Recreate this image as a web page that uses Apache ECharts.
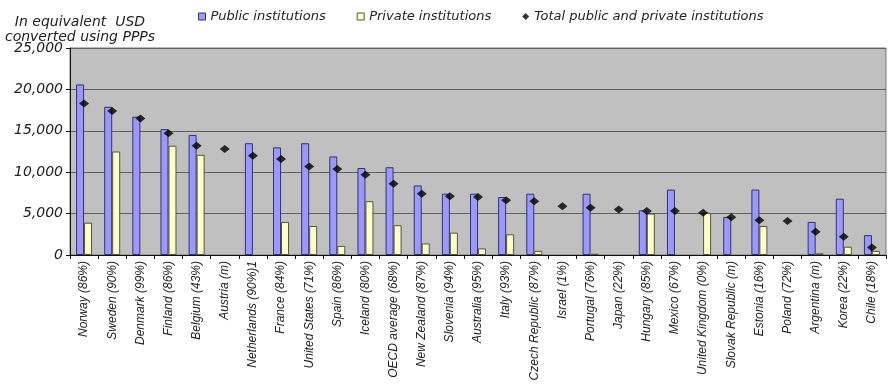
<!DOCTYPE html>
<html><head><meta charset="utf-8">
<script src="https://cdn.jsdelivr.net/npm/echarts@6/dist/echarts.min.js"></script>
<style>html,body{margin:0;padding:0;background:#fff}#c{width:888px;height:388px}</style>
</head><body><div id="c"></div>
<script>
const categories = ["Norway (86%)","Sweden (90%)","Denmark (99%)","Finland (86%)","Belgium (43%)","Austria (m)","Netherlands (90%)1","France (84%)","United States (71%)","Spain (86%)","Iceland (80%)","OECD average (68%)","New Zealand (87%)","Slovenia (94%)","Australia (95%)","Italy (93%)","Czech Republic (87%)","Israel (1%)","Portugal (76%)","Japan (22%)","Hungary (85%)","Mexico (67%)","United Kingdom (0%)","Slovak Republic (m)","Estonia (16%)","Poland (72%)","Argentina (m)","Korea (22%)","Chile (18%)"];
const publicVals = [20600,17900,16700,15200,14500,null,13500,13000,13500,11900,10500,10600,8400,7400,7400,7000,7400,null,7400,null,5400,7900,null,4600,7900,null,4000,6800,2400];
const privateVals = [3900,12500,null,13200,12100,null,null,4000,3500,1100,6500,3600,1400,2700,800,2500,500,null,150,null,5000,null,5100,null,3500,null,200,1000,500];
const totalVals = [18300,17400,16500,14700,13200,12800,12000,11600,10700,10400,9700,8600,7400,7100,7000,6600,6500,5900,5700,5500,5300,5300,5100,4550,4200,4100,2800,2200,900];
const yTicks = [0,5000,10000,15000,20000,25000];

const chart = echarts.init(document.getElementById('c'));
const font = '"Liberation Sans", Arial, sans-serif';
const wide = '"DejaVu Sans", sans-serif';
chart.setOption({
  animation:false,
  textStyle:{fontFamily:font},
  grid:{left:70,right:2,top:48,bottom:133,show:true,backgroundColor:'#c0c0c0',borderColor:'#777',borderWidth:1},
  legend:{
    top:5,left:193,itemGap:31,itemWidth:7,itemHeight:7,
    textStyle:{fontStyle:'italic',fontSize:13,color:'#222',fontFamily:wide},
    data:[
      {name:'Public institutions',icon:'rect',itemStyle:{color:'#9999ff',borderColor:'#333366',borderWidth:1}},
      {name:'Private institutions',icon:'rect',itemStyle:{color:'#ffffcc',borderColor:'#555533',borderWidth:1}},
      {name:'Total public and private institutions',icon:'diamond',itemStyle:{color:'#000'}}
    ]
  },
  graphic:[{type:'text',x:80,y:15,style:{text:'In equivalent  USD\nconverted using PPPs',textAlign:'center',fill:'#222',font:'italic 14px '+wide,lineHeight:15}}],
  xAxis:{
    type:'category',data:categories,
    axisLine:{lineStyle:{color:'#111',width:1}},
    axisTick:{show:true,length:4,lineStyle:{color:'#111'}},
    axisLabel:{rotate:90,interval:0,fontStyle:'italic',fontSize:12,color:'#222',margin:6,fontFamily:font}
  },
  yAxis:{
    type:'value',min:0,max:25000,interval:5000,
    axisLine:{show:true,lineStyle:{color:'#111'}},
    axisTick:{show:true,length:4,lineStyle:{color:'#111'}},
    splitLine:{lineStyle:{color:'#606060',width:1}},
    axisLabel:{fontStyle:'italic',fontSize:14,color:'#222',margin:7,fontFamily:wide,
      formatter:v=>yTicks.includes(v)?v.toLocaleString('en-US'):''}
  },
  series:[
    {name:'Public institutions',type:'bar',data:publicVals,barWidth:8,barGap:'0%',
      itemStyle:{color:'#9999ff',borderColor:'#333366',borderWidth:1}},
    {name:'Private institutions',type:'bar',data:privateVals,barWidth:8,barGap:'0%',
      itemStyle:{color:'#ffffcc',borderColor:'#555533',borderWidth:1}},
    {name:'Total public and private institutions',type:'scatter',data:totalVals,symbol:'diamond',symbolSize:[10,8],
      itemStyle:{color:'#000'},z:5}
  ]
});
</script></body></html>
